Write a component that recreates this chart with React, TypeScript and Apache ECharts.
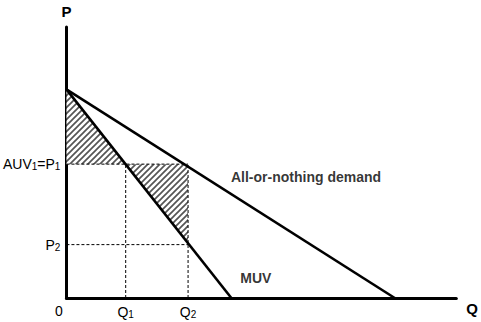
import React, { useEffect, useRef } from "react";
import * as echarts from "echarts";

// Economic quantities (axis units 0..100)
const priceIntercept = 77;      // P at Q = 0 for both curves
const aonQIntercept = 84.2;     // all-or-nothing demand hits Q axis
const muvQIntercept = 42.3;     // MUV hits Q axis
const P1 = 49.4;
const P2 = 19.7;
const Q1 = 15.2;
const Q2 = 31.2;
const muvAtQ2 = 20.4;

const aonLine = [[0, priceIntercept], [aonQIntercept, 0]];
const muvLine = [[0, priceIntercept], [muvQIntercept, 0]];
const hatchA = [[0, priceIntercept], [0, P1], [Q1, P1]];
const hatchB = [[Q1, P1], [Q2, P1], [Q2, muvAtQ2]];
const dashP1 = [[0, P1], [Q2, P1]];
const dashP2 = [[0, P2], [Q2, P2]];
const dashQ1 = [[Q1, 0], [Q1, P1]];
const dashQ2 = [[Q2, 0], [Q2, P1]];

const xTickValues = [0, Q1, Q2];
const xTickLabels = ["{z|0}", "{m|Q}{s|1}", "{m|Q}{s|2}"];
const yTickValues = [P2, P1];
const yTickLabels = ["{m|P}{s|2}", "{m|AUV}{s|1}{m|=P}{s|1}"];

const curveLabels = [
  { name: "All-or-nothing demand", value: [42.2, 44.8] },
  { name: "MUV", value: [44.6, 7.4] },
];

const FONT = "'Liberation Sans', Arial, sans-serif";

function makeHatch(): HTMLCanvasElement {
  const s = 6;
  const c = document.createElement("canvas");
  c.width = s;
  c.height = s;
  const ctx = c.getContext("2d")!;
  ctx.fillStyle = "#ffffff";
  ctx.fillRect(0, 0, s, s);
  ctx.strokeStyle = "#555555";
  ctx.lineWidth = 1.7;
  ctx.beginPath();
  ctx.moveTo(-1, s + 1);
  ctx.lineTo(s + 1, -1);
  ctx.moveTo(-1, 1);
  ctx.lineTo(1, -1);
  ctx.moveTo(s - 1, s + 1);
  ctx.lineTo(s + 1, s - 1);
  ctx.stroke();
  return c;
}

const rich = {
  m: { fontSize: 14, fontFamily: FONT, color: "#000" },
  z: { fontSize: 14, fontFamily: FONT, color: "#000", padding: [0, 15, 0, 0] },
  s: { fontSize: 10, fontFamily: FONT, color: "#000", verticalAlign: "bottom", padding: [5, 0, 0, 0] },
};

export default function App() {
  const ref = useRef<HTMLDivElement>(null);
  useEffect(() => {
    if (!ref.current) return;
    const chart = echarts.init(ref.current, null, { renderer: "svg" });
    const hatch = makeHatch();
    const dashStyle = { color: "#000", width: 1, type: [3, 2] as any };
    const polySeries = (data: number[][]) => ({
      type: "custom",
      silent: true,
      data: data,
      renderItem: (params: any, api: any) => {
        if (params.dataIndex !== 0) return null;
        const pts = data.map((d) => api.coord(d));
        return {
          type: "polygon",
          shape: { points: pts },
          style: { fill: { image: hatch, repeat: "repeat" } as any, stroke: "none" },
        };
      },
      z: 1,
    });
    const lineSeries = (data: number[][], style: any, z = 3) => ({
      type: "line",
      data,
      symbol: "none",
      silent: true,
      lineStyle: style,
      z,
    });
    chart.setOption({
      animation: false,
      grid: { left: 66, top: 27, right: 22, bottom: 24 },
      xAxis: {
        type: "value",
        min: 0,
        max: 100,
        name: "Q",
        nameLocation: "end",
        nameGap: 10,
        nameTextStyle: { fontSize: 15, fontWeight: "bold", fontFamily: FONT, color: "#000", verticalAlign: "top", padding: [3, 0, 0, 0] },
        axisLine: { show: true, onZero: false, lineStyle: { color: "#000", width: 3 } },
        axisTick: { show: false },
        splitLine: { show: false },
        axisLabel: {
          customValues: xTickValues,
          margin: 6,
          formatter: (v: number) => {
            const i = xTickValues.findIndex((t) => Math.abs(t - v) < 1e-6);
            return i >= 0 ? xTickLabels[i] : "";
          },
          rich,
          fontFamily: FONT,
          fontSize: 14,
          color: "#000",
        },
      },
      yAxis: {
        type: "value",
        min: 0,
        max: 100,
        name: "P",
        nameLocation: "end",
        nameGap: 8,
        nameTextStyle: { fontSize: 15, fontWeight: "bold", fontFamily: FONT, color: "#000", align: "center" },
        axisLine: { show: true, onZero: false, lineStyle: { color: "#000", width: 3 } },
        axisTick: { show: false },
        splitLine: { show: false },
        axisLabel: {
          customValues: yTickValues,
          margin: 6,
          formatter: (v: number) => {
            const i = yTickValues.findIndex((t) => Math.abs(t - v) < 1e-6);
            return i >= 0 ? yTickLabels[i] : "";
          },
          rich,
          fontFamily: FONT,
          fontSize: 14,
          color: "#000",
        },
      },
      series: [
        polySeries(hatchA),
        polySeries(hatchB),
        lineSeries(dashP1, dashStyle, 2),
        lineSeries(dashP2, dashStyle, 2),
        lineSeries(dashQ1, dashStyle, 2),
        lineSeries(dashQ2, dashStyle, 2),
        lineSeries(aonLine, { color: "#000", width: 2.6 }),
        lineSeries(muvLine, { color: "#000", width: 2.6 }),
        {
          type: "scatter",
          data: curveLabels,
          symbolSize: 0,
          silent: true,
          label: {
            show: true,
            position: "inside",
            align: "left",
            formatter: (p: any) => p.name,
            fontSize: 14,
            fontWeight: "bold",
            fontFamily: FONT,
            color: "#000",
          },
          z: 4,
        },
      ],
    });
    return () => chart.dispose();
  }, []);
  return <div ref={ref} style={{ width: 481, height: 322, position: "absolute", left: 0, top: 0 }} />;
}
